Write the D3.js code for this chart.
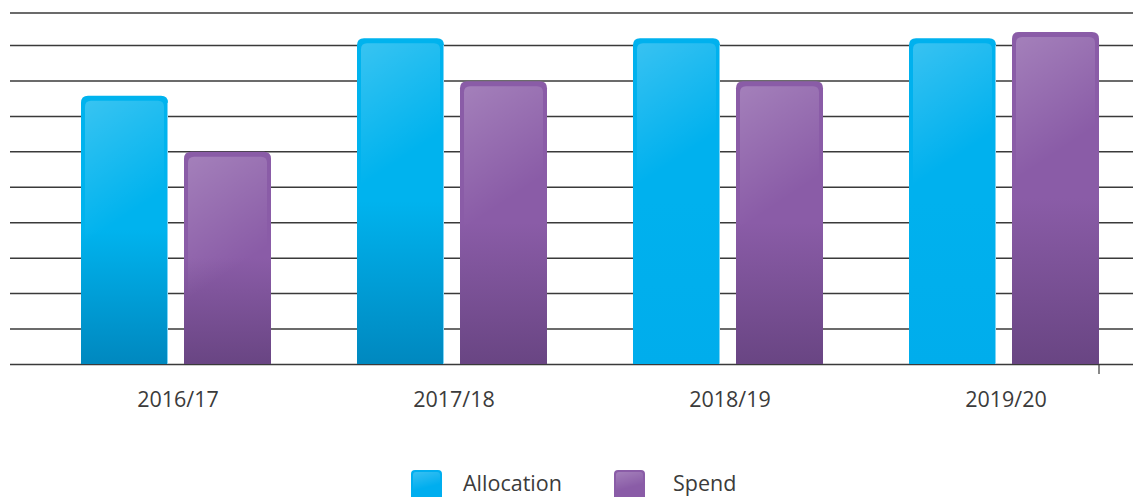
<!DOCTYPE html>
<html>
<head>
<meta charset="utf-8">
<script src="https://cdn.jsdelivr.net/npm/d3@7"></script>
<style>
  html, body { margin: 0; padding: 0; background: #fff; }
  text { font-family: "Open Sans", sans-serif; fill: #3b3b3b; }
</style>
</head>
<body>
<div class="chart"></div>
<script>
var categories = ['2016/17', '2017/18', '2018/19', '2019/20'];
var seriesNames = ['Allocation', 'Spend'];
var allocation = [7.57, 9.19, 9.19, 9.19];
var spend = [5.99, 7.98, 7.98, 9.37];
var yTicks = [0, 1, 2, 3, 4, 5, 6, 7, 8, 9];

var W = 1133, H = 497;
var margin = {top: 13, left: 10, bottom: 133};
var baseY = H - margin.bottom; // 364

var svg = d3.select('.chart')
  .append('svg')
    .attr('width', W)
    .attr('height', H);

var defs = svg.append('defs');

function vGrad(id, top, bottom) {
  var g = defs.append('linearGradient').attr('id', id)
    .attr('x1', 0).attr('y1', 0).attr('x2', 0).attr('y2', 1);
  g.append('stop').attr('offset', '0%').attr('stop-color', top);
  g.append('stop').attr('offset', '50%').attr('stop-color', top);
  g.append('stop').attr('offset', '100%').attr('stop-color', bottom);
}
vGrad('blueDark', '#00b3ee', '#0088bf');
vGrad('blueFlat', '#00b1ee', '#00adec');
vGrad('purple', '#8a5ca7', '#694583');

var hl = defs.append('linearGradient').attr('id', 'shine')
  .attr('x1', 0).attr('y1', 0).attr('x2', 0.35).attr('y2', 1);
hl.append('stop').attr('offset', '0%').attr('stop-color', '#fff').attr('stop-opacity', 0.22);
hl.append('stop').attr('offset', '85%').attr('stop-color', '#fff').attr('stop-opacity', 0);

var y = d3.scaleLinear()
  .domain([0, 9])
  .range([baseY, 45]);

var x0 = d3.scaleBand()
  .domain(categories)
  .range([40, 1144]);

var x1 = d3.scaleBand()
  .domain(seriesNames)
  .range([41, 231])
  .paddingInner(16 / 103);

// grid lines
svg.append('g')
  .attr('transform', `translate(${margin.left}, 0)`)
  .call(d3.axisLeft(y).tickValues(yTicks).tickSize(-(W - margin.left)).tickFormat(''))
  .call(g => g.select('.domain').remove())
  .call(g => g.selectAll('.tick line').attr('stroke', '#3a3a3a').attr('stroke-width', 1.5));

// top border of the plot
svg.append('line')
  .attr('x1', margin.left).attr('x2', W)
  .attr('y1', margin.top).attr('y2', margin.top)
  .attr('stroke', '#3a3a3a').attr('stroke-width', 1.5);

// category labels
svg.append('g')
  .attr('transform', `translate(0, ${baseY})`)
  .call(d3.axisBottom(x0).tickSize(0).tickPadding(0))
  .call(g => g.select('.domain').remove())
  .call(g => g.selectAll('text')
    .attr('dy', null)
    .attr('y', 43)
    .style('font-size', '21.5px')
    .style('font-family', '"Open Sans", sans-serif')
    .attr('fill', '#3b3b3b'));

// small end tick
var lastX = x0(categories[3]) + x1('Spend') + x1.bandwidth();
svg.append('line')
  .attr('x1', lastX).attr('x2', lastX)
  .attr('y1', baseY).attr('y2', baseY + 10)
  .attr('stroke', '#3a3a3a').attr('stroke-width', 1.2);

function topRounded(x, yy, w, h, r) {
  return `M${x},${yy + h} V${yy + r} Q${x},${yy} ${x + r},${yy} H${x + w - r} Q${x + w},${yy} ${x + w},${yy + r} V${yy + h} Z`;
}

var rows = [];
categories.forEach(function(c, i) {
  rows.push({cat: c, series: 'Allocation', value: allocation[i], i: i});
  rows.push({cat: c, series: 'Spend', value: spend[i], i: i});
});

function fillFor(d) {
  if (d.series === 'Spend') return 'url(#purple)';
  return d.i < 2 ? 'url(#blueDark)' : 'url(#blueFlat)';
}

var bars = svg.append('g').selectAll('g')
  .data(rows)
  .enter()
  .append('g');

bars.append('path')
  .attr('d', d => {
    var bx = x0(d.cat) + x1(d.series);
    var by = y(d.value);
    return topRounded(bx, by, x1.bandwidth(), baseY - by, 7);
  })
  .attr('fill', fillFor);

bars.append('path')
  .attr('d', d => {
    var bx = x0(d.cat) + x1(d.series) + 4;
    var by = y(d.value) + 5;
    var h = Math.min(baseY - by, 150);
    return topRounded(bx, by, x1.bandwidth() - 8, h, 6);
  })
  .attr('fill', 'url(#shine)');

bars.filter(d => d.series === 'Allocation')
  .append('line')
  .attr('x1', d => x0(d.cat) + x1(d.series) + x1.bandwidth() - 0.5)
  .attr('x2', d => x0(d.cat) + x1(d.series) + x1.bandwidth() - 0.5)
  .attr('y1', d => y(d.value) + 7)
  .attr('y2', baseY)
  .attr('stroke', '#7fd5f6')
  .attr('stroke-width', 1);

// legend
var legendItems = [
  {name: 'Allocation', x: 411},
  {name: 'Spend', x: 614}
];
var legend = svg.append('g').selectAll('g')
  .data(legendItems)
  .enter()
  .append('g')
  .attr('transform', d => `translate(${d.x}, 470)`);

legend.append('rect')
  .attr('width', 31).attr('height', 31).attr('rx', 4)
  .attr('fill', d => d.name === 'Spend' ? '#8a5ca7' : '#00aeef');
legend.append('rect')
  .attr('x', 2).attr('y', 2).attr('width', 27).attr('height', 20).attr('rx', 3)
  .attr('fill', 'url(#shine)');
legend.append('text')
  .attr('x', d => d.name === 'Spend' ? 59 : 52)
  .attr('y', 21)
  .style('font-size', '21.5px')
  .text(d => d.name);
</script>
</body>
</html>
